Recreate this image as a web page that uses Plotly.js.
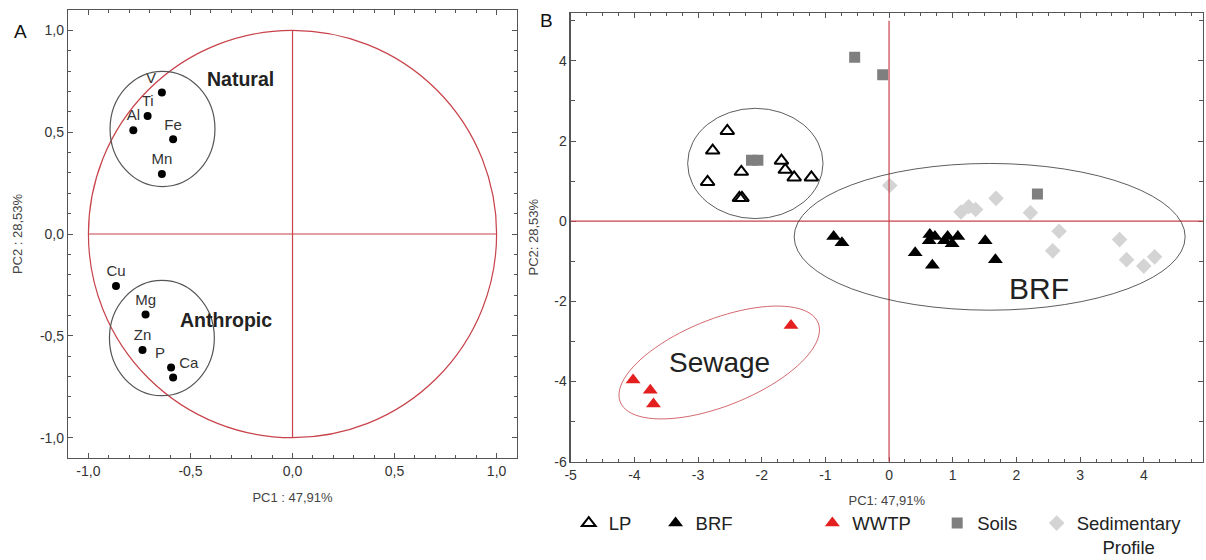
<!DOCTYPE html>
<html>
<head>
<meta charset="utf-8">
<script src="https://cdn.plot.ly/plotly-3.0.1.min.js"></script>
<style>
  html, body { margin: 0; padding: 0; background: #fff; }
  #chart { width: 1206px; height: 560px; }
</style>
</head>
<body>
<div id="chart"></div>
<script>
// ---- Panel A: variable loadings on PC1 / PC2 ----
const elements = ['V', 'Ti', 'Al', 'Fe', 'Mn', 'Cu', 'Mg', 'Zn', 'P', 'Ca'];
const loadPC1 = [-0.64, -0.71, -0.78, -0.585, -0.64, -0.865, -0.72, -0.735, -0.595, -0.585];
const loadPC2 = [0.695, 0.58, 0.51, 0.465, 0.295, -0.255, -0.395, -0.57, -0.655, -0.705];
const labelPos = ['top left', 'top center', 'top center', 'top center', 'top center',
                  'top center', 'top center', 'top center', 'top left', 'top right'];

// ---- Panel B: sample scores on PC1 / PC2 ----
const lpPC1 = [-2.54, -2.77, -2.85, -2.32, -2.35, -2.31, -1.69, -1.63, -1.49, -1.22];
const lpPC2 = [2.25, 1.76, 0.98, 1.23, 0.58, 0.58, 1.51, 1.28, 1.09, 1.09];
const brfPC1 = [-0.87, -0.74, 0.41, 0.64, 0.72, 0.63, 0.92, 0.87, 0.99, 1.08, 0.68, 1.51, 1.67];
const brfPC2 = [-0.38, -0.54, -0.79, -0.33, -0.38, -0.49, -0.38, -0.49, -0.56, -0.38, -1.10, -0.49, -0.96];
const wwtpPC1 = [-1.54, -4.02, -3.75, -3.70];
const wwtpPC2 = [-2.60, -3.96, -4.22, -4.56];
const soilPC1 = [-2.16, -2.06, -0.54, -0.10, 2.33];
const soilPC2 = [1.52, 1.52, 4.09, 3.65, 0.68];
const sedPC1 = [0.01, 1.13, 1.25, 1.36, 1.68, 2.22, 2.67, 2.57, 3.62, 3.73, 4.00, 4.17];
const sedPC2 = [0.89, 0.23, 0.36, 0.29, 0.57, 0.21, -0.25, -0.74, -0.46, -0.96, -1.12, -0.89];

// tick labels
const tickValsA = [-1, -0.5, 0, 0.5, 1];
const tickTextA = ['-1,0', '-0,5', '0,0', '0,5', '1,0'];
const tickValsBx = [-5, -4, -3, -2, -1, 0, 1, 2, 3, 4];
const tickTextBx = ['-5', '-4', '-3', '-2', '-1', '0', '1', '2', '3', '4'];
const tickValsBy = [-6, -4, -2, 0, 2, 4];
const tickTextBy = ['-6', '-4', '-2', '0', '2', '4'];

const FONT = 'Liberation Sans, Arial, sans-serif';
const RED = '#c8424a';
const AXIS = '#555';

// tilted outline around the sewage samples: centre plus two conjugate half-axes
const sewCentre = [-2.667, -3.525];
const sewU = [1.554, 0.987];
const sewV = [-0.253, 1.004];
function ellipsePath(c, u, v, n) {
  let d = '';
  for (let i = 0; i <= n; i++) {
    const t = 2 * Math.PI * i / n;
    const x = c[0] + u[0] * Math.cos(t) + v[0] * Math.sin(t);
    const y = c[1] + u[1] * Math.cos(t) + v[1] * Math.sin(t);
    d += (i === 0 ? 'M' : 'L') + x.toFixed(4) + ',' + y.toFixed(4);
  }
  return d + 'Z';
}

const traces = [
  {
    x: loadPC1, y: loadPC2, text: elements, textposition: labelPos,
    mode: 'markers+text', type: 'scatter', xaxis: 'x', yaxis: 'y',
    marker: { color: '#000', size: 8 },
    textfont: { family: FONT, size: 15, color: '#333' },
    showlegend: false, hoverinfo: 'skip'
  },
  {
    name: 'LP', x: lpPC1, y: lpPC2, mode: 'markers', type: 'scatter',
    xaxis: 'x2', yaxis: 'y2', legend: 'legend',
    marker: { symbol: 'triangle-up-open', size: 12, color: '#000', line: { width: 2 } }
  },
  {
    name: 'BRF', x: brfPC1, y: brfPC2, mode: 'markers', type: 'scatter',
    xaxis: 'x2', yaxis: 'y2', legend: 'legend2',
    marker: { symbol: 'triangle-up', size: 13, color: '#000' }
  },
  {
    name: 'WWTP', x: wwtpPC1, y: wwtpPC2, mode: 'markers', type: 'scatter',
    xaxis: 'x2', yaxis: 'y2', legend: 'legend3',
    marker: { symbol: 'triangle-up', size: 13, color: '#e3201f' }
  },
  {
    name: 'Soils', x: soilPC1, y: soilPC2, mode: 'markers', type: 'scatter',
    xaxis: 'x2', yaxis: 'y2', legend: 'legend4',
    marker: { symbol: 'square', size: 11, color: '#7f7f7f' }
  },
  {
    name: 'Sedimentary<br>\u00a0\u00a0\u00a0\u00a0\u00a0Profile',
    x: sedPC1, y: sedPC2, mode: 'markers', type: 'scatter',
    xaxis: 'x2', yaxis: 'y2', legend: 'legend5',
    marker: { symbol: 'diamond', size: 12, color: '#d4d4d4' }
  }
];

const axisBase = {
  showgrid: false, zeroline: false, showline: true, linecolor: AXIS, linewidth: 1.2,
  mirror: 'allticks', ticks: 'inside', ticklen: 5, tickcolor: AXIS, tickwidth: 1,
  tickfont: { family: FONT, size: 14, color: '#333' }, tickmode: 'array'
};

function legendAt(x) {
  return {
    x: x, xanchor: 'left', y: 0.099, yanchor: 'top', orientation: 'h',
    font: { family: FONT, size: 18.5, color: '#222' }, bgcolor: 'rgba(0,0,0,0)',
    borderwidth: 0, valign: 'top', itemclick: false
  };
}

const layout = {
  width: 1206, height: 560,
  margin: { l: 0, r: 0, t: 0, b: 0, autoexpand: false },
  paper_bgcolor: '#fff', plot_bgcolor: '#fff',
  font: { family: FONT, color: '#333' },
  xaxis: Object.assign({}, axisBase, {
    domain: [0.0564, 0.4287], range: [-1.1, 1.1], anchor: 'y',
    tickvals: tickValsA, ticktext: tickTextA,
    minor: { tickmode: 'linear', tick0: 0, dtick: 0.1, ticks: 'inside', ticklen: 3, tickcolor: AXIS },
    title: { text: 'PC1 : 47,91%', font: { family: FONT, size: 13, color: '#444' }, standoff: 14 }
  }),
  yaxis: Object.assign({}, axisBase, {
    domain: [0.1821, 0.9821], range: [-1.1, 1.1], anchor: 'x',
    tickvals: tickValsA, ticktext: tickTextA,
    minor: { tickmode: 'linear', tick0: 0, dtick: 0.1, ticks: 'inside', ticklen: 3, tickcolor: AXIS },
    title: { text: 'PC2 : 28,53%', font: { family: FONT, size: 13, color: '#444' }, standoff: 14 }
  }),
  xaxis2: Object.assign({}, axisBase, {
    domain: [0.4732, 0.9975], range: [-5, 4.93], anchor: 'y2',
    tickvals: tickValsBx, ticktext: tickTextBx,
    minor: { tickmode: 'linear', tick0: 0, dtick: 0.25, ticks: 'inside', ticklen: 3, tickcolor: AXIS },
    title: { text: 'PC1: 47,91%', font: { family: FONT, size: 13, color: '#444' }, standoff: 14 }
  }),
  yaxis2: Object.assign({}, axisBase, {
    domain: [0.1755, 0.9773], range: [-6, 5.2], anchor: 'x2',
    tickvals: tickValsBy, ticktext: tickTextBy,
    minor: { tickmode: 'linear', tick0: 0, dtick: 1, ticks: 'inside', ticklen: 4, tickcolor: AXIS },
    title: { text: 'PC2: 28,53%', font: { family: FONT, size: 13, color: '#444' }, standoff: 12 }
  }),
  legend: legendAt(0.4716),
  legend2: legendAt(0.5436),
  legend3: legendAt(0.6736),
  legend4: legendAt(0.7771),
  legend5: legendAt(0.8596),
  shapes: [
    // panel A: unit circle and axes through the origin
    { type: 'circle', xref: 'x', yref: 'y', x0: -1, x1: 1, y0: -1, y1: 1, line: { color: RED, width: 1.2 } },
    { type: 'line', xref: 'x', yref: 'y', x0: -1, x1: 1, y0: 0, y1: 0, line: { color: RED, width: 1.2 } },
    { type: 'line', xref: 'x', yref: 'y', x0: 0, x1: 0, y0: -1, y1: 1, line: { color: RED, width: 1.2 } },
    // panel A: variable groups
    { type: 'circle', xref: 'x', yref: 'y', x0: -0.894, x1: -0.380, y0: 0.233, y1: 0.799, line: { color: '#555', width: 1.2 } },
    { type: 'circle', xref: 'x', yref: 'y', x0: -0.897, x1: -0.383, y0: -0.794, y1: -0.228, line: { color: '#555', width: 1.2 } },
    // panel B: axes through the origin
    { type: 'line', xref: 'x2', yref: 'y2', x0: -5, x1: 4.93, y0: 0, y1: 0, line: { color: RED, width: 1.2 } },
    { type: 'line', xref: 'x2', yref: 'y2', x0: 0, x1: 0, y0: -6, y1: 5.0, line: { color: RED, width: 1.2 } },
    // panel B: sample groups
    { type: 'circle', xref: 'x2', yref: 'y2', x0: -3.163, x1: -1.037, y0: 0.065, y1: 2.815, line: { color: '#333', width: 0.8 } },
    { type: 'circle', xref: 'x2', yref: 'y2', x0: -1.49, x1: 4.65, y0: -2.22, y1: 1.44, line: { color: '#333', width: 0.8 } },
    { type: 'path', xref: 'x2', yref: 'y2', path: ellipsePath(sewCentre, sewU, sewV, 90), line: { color: RED, width: 0.8 } }
  ],
  annotations: [
    { xref: 'paper', yref: 'paper', x: 20.7 / 1206, y: 1 - 31 / 560, xanchor: 'center', yanchor: 'middle',
      text: 'A', showarrow: false, font: { family: FONT, size: 19, color: '#111' } },
    { xref: 'paper', yref: 'paper', x: 546 / 1206, y: 1 - 21 / 560, xanchor: 'center', yanchor: 'middle',
      text: 'B', showarrow: false, font: { family: FONT, size: 19, color: '#111' } },
    { xref: 'x', yref: 'y', x: -0.254, y: 0.763, text: '<b>Natural</b>', showarrow: false,
      font: { family: FONT, size: 19.5, color: '#222' } },
    { xref: 'x', yref: 'y', x: -0.328, y: -0.422, text: '<b>Anthropic</b>', showarrow: false,
      font: { family: FONT, size: 19.5, color: '#222' } },
    { xref: 'x2', yref: 'y2', x: 2.36, y: -1.675, text: 'BRF', showarrow: false,
      font: { family: FONT, size: 30, color: '#222' } },
    { xref: 'x2', yref: 'y2', x: -2.67, y: -3.52, text: 'Sewage', showarrow: false,
      font: { family: FONT, size: 28, color: '#222' } }
  ]
};

Plotly.newPlot('chart', traces, layout, { displayModeBar: false, staticPlot: true });
</script>
</body>
</html>
